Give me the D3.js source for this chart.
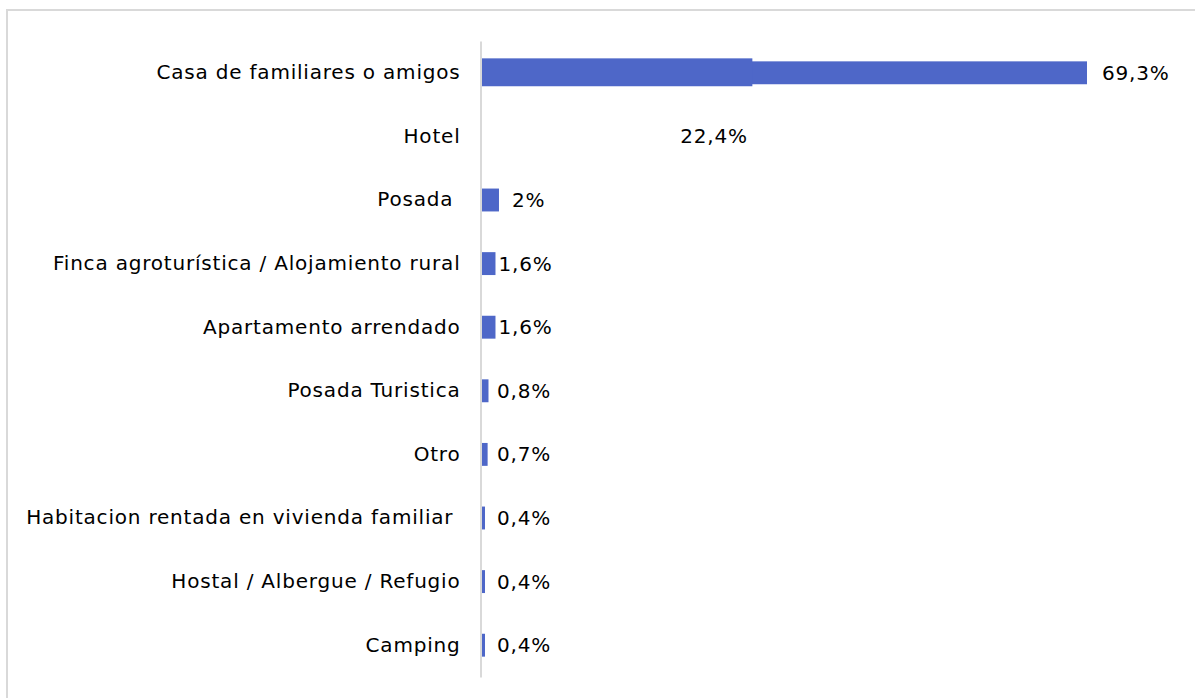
<!DOCTYPE html>
<html>
<head>
<meta charset="utf-8">
<script src="https://d3js.org/d3.v7.min.js"></script>
<style>
  body { margin: 0; background: #fff; }
  text { font-family: "DejaVu Sans", sans-serif; font-size: 20px; letter-spacing: 0.8px; fill: #000; }
</style>
</head>
<body>
<svg id="chart" width="1195" height="698"></svg>
<script>
// categories (top to bottom) and their shares in %
var categories = ["Casa de familiares o amigos", "Hotel", "Posada ", "Finca agroturística / Alojamiento rural",
  "Apartamento arrendado", "Posada Turistica", "Otro", "Habitacion rentada en vivienda familiar ",
  "Hostal / Albergue / Refugio", "Camping"];
var values = [69.3, 22.4, 2, 1.6, 1.6, 0.8, 0.7, 0.4, 0.4, 0.4];
var valueLabels = ["69,3%", "22,4%", "2%", "1,6%", "1,6%", "0,8%", "0,7%", "0,4%", "0,4%", "0,4%"];

var data = categories.map(function(c, i) { return {cat: c, v: values[i], lab: valueLabels[i]}; });

var svg = d3.select("#chart");
var mLeft = 481.5, mRight = 1087, mTop = 41, mBottom = 677;

// chart frame
svg.append("rect").attr("x", 7).attr("y", 10).attr("width", 1200).attr("height", 700)
  .attr("fill", "none").attr("stroke", "#d9d9d9").attr("stroke-width", 2);

var x = d3.scaleLinear().domain([0, 69.3]).range([mLeft, mRight]);
var y = d3.scaleBand().domain(categories).range([mTop, mBottom]).paddingInner(0.64).paddingOuter(0.32);

// bars (Hotel bar is not visible in the source picture)
svg.append("g").selectAll("rect").data(data).enter().append("rect")
  .attr("x", x(0))
  .attr("y", function(d) { return y(d.cat); })
  .attr("width", function(d) { return x(d.v) - x(0); })
  .attr("height", y.bandwidth())
  .attr("fill", function(d) { return d.cat == "Hotel" ? "none" : "#4e67c8"; });

// the hotel segment shows up overlapping the first row, a bit taller
svg.append("rect")
  .attr("x", x(0)).attr("y", y(categories[0]) - 3)
  .attr("width", x(31) - x(0)).attr("height", y.bandwidth() + 5)
  .attr("fill", "#4e67c8");

// category axis
var yAxis = svg.append("g").attr("transform", "translate(" + 480.5 + ",0)")
  .call(d3.axisLeft(y).tickSize(0).tickPadding(20));
yAxis.select(".domain").attr("stroke", "#d9d9d9").attr("stroke-width", 2);
yAxis.selectAll("text").attr("font-size", null).attr("font-family", null)
  .style("white-space", "pre").attr("fill", "#000");

// value labels
var nudge = {"Casa de familiares o amigos": 12, "Posada ": 10};
svg.append("g").selectAll("text").data(data).enter().append("text")
  .attr("x", function(d) { return Math.max(x(d.v) + 3, 497) + (nudge[d.cat] || 0); })
  .attr("y", function(d) { return y(d.cat) + y.bandwidth() / 2; })
  .attr("dy", "0.35em")
  .text(function(d) { return d.lab; });
</script>
</body>
</html>
